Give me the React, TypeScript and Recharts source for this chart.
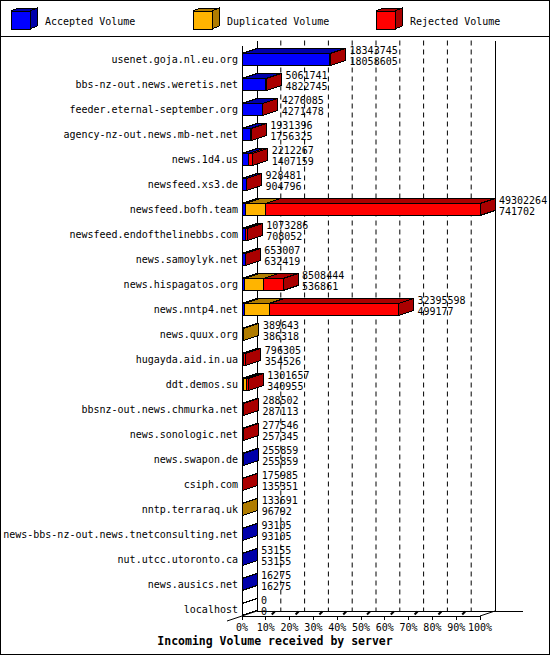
import React from 'react';
import { BarChart, Bar, XAxis, YAxis, CartesianGrid } from 'recharts';

// server names, top to bottom
const servers = [
  'usenet.goja.nl.eu.org',
  'bbs-nz-out.news.weretis.net',
  'feeder.eternal-september.org',
  'agency-nz-out.news.mb-net.net',
  'news.1d4.us',
  'newsfeed.xs3.de',
  'newsfeed.bofh.team',
  'newsfeed.endofthelinebbs.com',
  'news.samoylyk.net',
  'news.hispagatos.org',
  'news.nntp4.net',
  'news.quux.org',
  'hugayda.aid.in.ua',
  'ddt.demos.su',
  'bbsnz-out.news.chmurka.net',
  'news.sonologic.net',
  'news.swapon.de',
  'csiph.com',
  'nntp.terraraq.uk',
  'news-bbs-nz-out.news.tnetconsulting.net',
  'nut.utcc.utoronto.ca',
  'news.ausics.net',
  'localhost',
];

// volumes in bytes
const totalVolume = [
  18343745, 5061741, 4276085, 1931396, 2212267, 928481, 49302264, 1073286, 653007, 8508444,
  32395598, 389643, 796305, 1301657, 288502, 277546, 255859, 175985, 133691, 93105, 53155, 16275, 0,
];
const acceptedVolume = [
  18058605, 4822745, 4271478, 1756325, 1407159, 904796, 741702, 708052, 632419, 536861,
  499177, 386318, 354526, 340955, 287113, 257345, 255859, 135351, 96792, 93105, 53155, 16275, 0,
];
const duplicatedVolume = [
  0, 0, 0, 0, 0, 0, 4050000, 0, 0, 4000000,
  5100000, 3325, 0, 540000, 0, 0, 0, 0, 36899, 0, 0, 0, 0,
];
const rejectedVolume = [
  285140, 238996, 4607, 175071, 805108, 23685, 44510562, 365234, 20588, 3971583,
  26796421, 0, 441779, 420702, 1389, 20201, 0, 40634, 0, 0, 0, 0, 0,
];

const percentTicks = [0, 10, 20, 30, 40, 50, 60, 70, 80, 90, 100];
const gridTicks = [10, 20, 30, 40, 50, 60, 70, 80, 90];

const maxVolume = Math.max(...totalVolume);
const pct = (v: number) => (v / maxVolume) * 100;

const data = servers.map((name, i) => ({
  name,
  total: totalVolume[i],
  accepted: acceptedVolume[i],
  acc: pct(acceptedVolume[i]),
  dup: pct(duplicatedVolume[i]),
  rej: pct(rejectedVolume[i]),
}));

const MONO = '"DejaVu Sans Mono", "Liberation Mono", monospace';
const DX = 15;
const DY = 5;
const FLOOR = 616;

const BLUE = ['#0000ff', '#0000aa'];
const ORANGE = ['#ffb400', '#b07c00'];
const RED = ['#ff0000', '#aa0000'];

const makeShape = (front: string, dark: string, first: boolean, last: boolean) => (props: any) => {
  const { x, y, width, height } = props;
  const row = props.payload ?? props;
  const x1 = x + width;
  const yb = y + height;
  const parts: React.ReactNode[] = [];
  if (width > 0) {
    parts.push(
      <rect key="f" x={x} y={y} width={width} height={height} fill={front} stroke="#000" />,
      <polygon key="t" points={`${x},${y} ${x + DX},${y - DY} ${x1 + DX},${y - DY} ${x1},${y}`} fill={dark} stroke="#000" />,
      <polygon key="s" points={`${x1},${y} ${x1 + DX},${y - DY} ${x1 + DX},${yb - DY} ${x1},${yb}`} fill={dark} stroke="#000" />
    );
  } else if (first && row.total === 0) {
    parts.push(
      <polygon key="s" points={`${x},${y} ${x + DX},${y - DY} ${x + DX},${yb - DY} ${x},${yb}`} fill="#fff" stroke="#000" />
    );
  }
  if (last) {
    const cy = y + height / 2;
    parts.push(
      <text key="l1" x={x1 + DX + 4} y={cy - 9} dominantBaseline="central" fontFamily={MONO} fontSize={10} fill="#000">
        {row.total}
      </text>,
      <text key="l2" x={x1 + DX + 4} y={cy + 1.5} dominantBaseline="central" fontFamily={MONO} fontSize={10} fill="#000">
        {row.accepted}
      </text>
    );
  }
  return <g shapeRendering="crispEdges">{parts}</g>;
};

const YTick = ({ x, y, payload }: any) => (
  <text x={x} y={y} textAnchor="end" dominantBaseline="central" fontFamily={MONO} fontSize={10} fill="#000">
    {payload.value}
  </text>
);

const XTick = ({ x, y, payload }: any) => (
  <g>
    <line x1={x} y1={FLOOR} x2={x} y2={FLOOR + 4} stroke="#000" shapeRendering="crispEdges" />
    {payload.value > 0 && payload.value < 100 && (
      <line x1={x + 6} y1={FLOOR - 1.5} x2={x + 9} y2={FLOOR - 4.5} stroke="#000" strokeWidth={2} />
    )}
    <text x={x} y={y + 6} textAnchor="middle" dominantBaseline="central" fontFamily={MONO} fontSize={10} fill="#000">
      {payload.value}%
    </text>
  </g>
);

// back-wall grid lines: the value scale pushed back by the depth offset
const backGrid = (args: any) => {
  const s = args?.xAxis?.scale;
  if (!s) return [];
  return gridTicks.map((t) => (typeof s === 'function' ? s(t) : s.map(t)) + DX);
};

const LegendBox = ({ x, label, colors }: { x: number; label: string; colors: string[] }) => (
  <g shapeRendering="crispEdges">
    <rect x={x} y={11} width={19} height={18} fill={colors[0]} stroke="#000" />
    <polygon points={`${x},11 ${x + 7},8 ${x + 26},8 ${x + 19},11`} fill={colors[1]} stroke="#000" />
    <polygon points={`${x + 19},11 ${x + 26},8 ${x + 26},26 ${x + 19},29`} fill={colors[1]} stroke="#000" />
    <text x={x + 34} y={21} dominantBaseline="central" fontFamily={MONO} fontSize={10} fill="#000">
      {label}
    </text>
  </g>
);

function Frame() {
  return (
    <svg width={550} height={655} style={{ position: 'absolute', left: 0, top: 0 }}>
      <rect x={0.5} y={0.5} width={549} height={654} fill="#fff" stroke="#000" />
      <line x1={0} y1={36.5} x2={550} y2={36.5} stroke="#000" />
      <LegendBox x={11} label="Accepted Volume" colors={BLUE} />
      <LegendBox x={193} label="Duplicated Volume" colors={ORANGE} />
      <LegendBox x={376} label="Rejected Volume" colors={RED} />
      <g stroke="#000" shapeRendering="crispEdges">
        <line x1={257.5} y1={40.5} x2={257.5} y2={FLOOR - DY} />
        <line x1={242.5} y1={45.5} x2={242.5} y2={FLOOR} />
        <line x1={495.5} y1={40.5} x2={495.5} y2={FLOOR - DY} />
        <line x1={257} y1={FLOOR - DY + 0.5} x2={523} y2={FLOOR - DY + 0.5} />
        <line x1={242} y1={FLOOR + 0.5} x2={480} y2={FLOOR + 0.5} />
      </g>
      <g stroke="#000">
        <line x1={480} y1={FLOOR} x2={495} y2={FLOOR - DY} />
        <line x1={227} y1={FLOOR + DY} x2={257} y2={FLOOR - DY} />
      </g>
      <text x={275} y={641} textAnchor="middle" dominantBaseline="central" fontFamily={MONO} fontWeight="bold" fontSize={11.5} fill="#000">
        Incoming Volume received by server
      </text>
    </svg>
  );
}

export default function App() {
  return (
    <div style={{ position: 'absolute', left: 0, top: 0, width: 550, height: 655 }}>
      <Frame />
      <div style={{ position: 'absolute', left: 0, top: 0 }}>
        <BarChart
          width={550}
          height={655}
          data={data}
          layout="vertical"
          margin={{ top: 46.5, right: 55, bottom: 3.5, left: 0 }}
        >
          <CartesianGrid
            horizontal={false}
            vertical
            verticalCoordinatesGenerator={backGrid}
            y={40.5}
            height={FLOOR - DY - 40.5}
            stroke="#000"
            strokeDasharray="5 4"
          />
          <XAxis
            type="number"
            domain={[0, 100]}
            ticks={percentTicks}
            interval={0}
            padding={{ left: 0, right: DX }}
            height={30}
            axisLine={false}
            tickLine={false}
            tickSize={0}
            tickMargin={0}
            tick={<XTick />}
          />
          <YAxis
            type="category"
            dataKey="name"
            width={242}
            interval={0}
            axisLine={false}
            tickLine={false}
            tickSize={0}
            tickMargin={4}
            tick={<YTick />}
          />
          <Bar dataKey="acc" stackId="v" barSize={12} isAnimationActive={false} shape={makeShape(BLUE[0], BLUE[1], true, false)} />
          <Bar dataKey="dup" stackId="v" barSize={12} isAnimationActive={false} shape={makeShape(ORANGE[0], ORANGE[1], false, false)} />
          <Bar dataKey="rej" stackId="v" barSize={12} isAnimationActive={false} shape={makeShape(RED[0], RED[1], false, true)} />
        </BarChart>
      </div>
    </div>
  );
}
